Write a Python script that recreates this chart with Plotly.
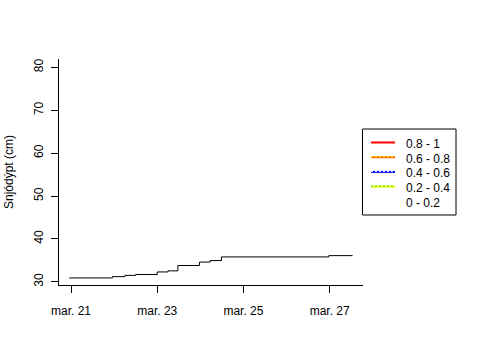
import plotly.graph_objects as go

# ---- data ----
times = ["2023-03-20 23:00", "2023-03-21 23:00", "2023-03-22 06:00", "2023-03-22 12:00",
         "2023-03-23 00:00", "2023-03-23 06:00", "2023-03-23 11:30", "2023-03-23 23:30",
         "2023-03-24 05:30", "2023-03-24 11:45", "2023-03-26 23:30", "2023-03-27 12:45"]
depth = [30.9, 31.2, 31.5, 31.7, 32.3, 32.55, 33.8, 34.6, 34.95, 35.8, 36.1, 36.1]

xtick_vals = ["2023-03-21", "2023-03-23", "2023-03-25", "2023-03-27"]
xtick_text = ["mar. 21", "mar. 23", "mar. 25", "mar. 27"]
ytick_vals = [30, 40, 50, 60, 70, 80]

legend_labels = ["0.8 - 1", "0.6 - 0.8", "0.4 - 0.6", "0.2 - 0.4", "0 - 0.2"]
legend_base = ["red", "#ff6600", "blue", "yellow", None]
legend_over = [None, "yellow", "white", "#00ee00", None]

# ---- layout geometry (pixels) ----
W, H = 480, 360
L, R, T, B = 59, 117, 59, 75
PW, PH = W - L - R, H - T - B
FONT = "Liberation Sans, Arial, sans-serif"

def px(x):
    return (x - L) / PW

def py(y):
    return 1 - (y - T) / PH

fig = go.Figure()
fig.add_trace(go.Scatter(x=times, y=depth, mode="lines", line=dict(color="black", width=1, shape="hv"),
                         showlegend=False, hoverinfo="skip"))

shapes = []
annotations = []
# legend box
shapes.append(dict(type="rect", xref="paper", yref="paper", x0=px(362.5), x1=px(456), y0=py(129), y1=py(215),
                   line=dict(color="black", width=1), fillcolor="white", layer="above"))
for i, lab in enumerate(legend_labels):
    yl = 142.5 + i * 14.7
    if legend_base[i]:
        shapes.append(dict(type="line", xref="paper", yref="paper", x0=px(371), x1=px(395), y0=py(yl), y1=py(yl),
                           line=dict(color=legend_base[i], width=2), layer="above"))
    if legend_over[i]:
        shapes.append(dict(type="line", xref="paper", yref="paper", x0=px(371), x1=px(395), y0=py(yl - 0.5), y1=py(yl - 0.5),
                           line=dict(color=legend_over[i], width=1, dash="2px,2px"), layer="above"))
    annotations.append(dict(text=lab, xref="paper", yref="paper", x=px(404), y=py(yl + 1.5), xanchor="left",
                            yanchor="middle", showarrow=False, font=dict(family=FONT, size=12, color="black")))

fig.update_layout(
    width=W, height=H, margin=dict(l=L, r=R, t=T, b=B, autoexpand=False),
    paper_bgcolor="white", plot_bgcolor="white",
    font=dict(family=FONT, size=12, color="black"),
    shapes=shapes, annotations=annotations,
    xaxis=dict(type="date", range=["2023-03-20 17:19", "2023-03-27 18:33"], tickvals=xtick_vals, ticktext=xtick_text,
               showgrid=False, zeroline=False, showline=True, linecolor="black", linewidth=1,
               ticks="outside", ticklen=7, tickcolor="black", tickfont=dict(size=12, family=FONT),
               ticklabelstandoff=8, automargin=False),
    yaxis=dict(range=[29.256, 81.93], tickvals=ytick_vals, tickangle=-90,
               showgrid=False, zeroline=False, showline=True, linecolor="black", linewidth=1,
               ticks="outside", ticklen=7, tickcolor="black", tickfont=dict(size=12, family=FONT),
               ticklabelstandoff=3, automargin=False,
               title=dict(text="Snjódýpt (cm)", font=dict(size=12, family=FONT), standoff=16)),
)

fig.write_html("out.html")
